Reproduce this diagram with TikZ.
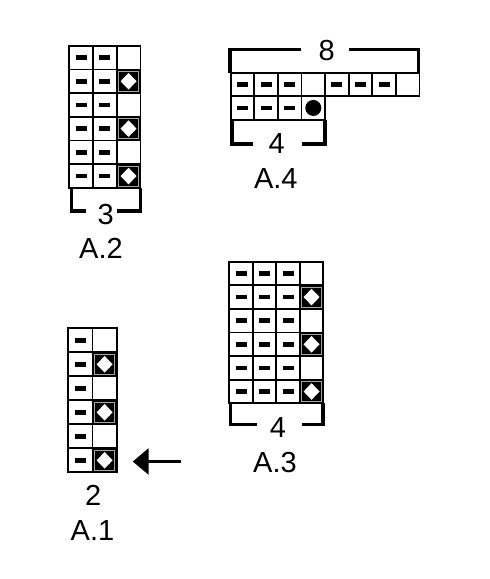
\documentclass[tikz,border=0pt]{standalone}
\usepackage{fontspec}
\setmainfont{Liberation Sans}
\usetikzlibrary{arrows.meta}
\tikzset{
  gridline/.style={line width=1.8pt, draw=black},
  brk/.style={line width=3.8pt, draw=black, line join=miter},
  lbl/.style={font=\fontsize{29}{29}\selectfont, inner sep=0pt},
  arrowline/.style={line width=3pt, -{Triangle[length=16pt,width=26pt]}},
}
\newcommand\syme[4]{}
\newcommand\symd[4]{\fill[black] (#1-5.5,#2-2.3) rectangle (#1+5.5,#2+2.3);}
\newcommand\symo[4]{\fill[black] (#1,#2) circle (8pt);}
\newcommand\symk[4]{%
  \fill[black] (#1-#3/2,#2-#4/2) rectangle (#1+#3/2,#2+#4/2);
  \draw[gray!70, line width=0.8pt] (#1-#3/2+2,#2-#4/2+2) rectangle (#1+#3/2-2,#2+#4/2-2);
  \fill[white] (#1,#2-8.3) -- (#1+8,#2) -- (#1,#2+8.3) -- (#1-8,#2) -- cycle;}
% #1 left, #2 top, #3 cell width, #4 cell height, #5 rows
\newcommand\knitchart[5]{%
  \foreach \row [count=\r from 0] in {#5} {
    \foreach \t [count=\c from 0] in \row {
      \pgfmathsetmacro\cx{#1+(\c+0.5)*#3}
      \pgfmathsetmacro\cy{#2+(\r+0.5)*#4}
      \csname sym\t\endcsname{\cx}{\cy}{#3}{#4}
    }
  }
  \foreach \row [count=\r from 0] in {#5} {
    \foreach \t [count=\c from 0] in \row {
      \draw[gridline] (#1+\c*#3,#2+\r*#4) rectangle ++(#3,#4);
    }
  }
}
\begin{document}
\begin{tikzpicture}[x=1pt,y=-1pt]
\fill[white] (0,0) rectangle (490,579);
\useasboundingbox (0,0) rectangle (490,579);

% A.2
\knitchart{69.3}{45.7}{23.7}{23.7}{{d,d,e},{d,d,k},{d,d,e},{d,d,k},{d,d,e},{d,d,k}}
\draw[brk] (86,211) -| (71.5,188);
\draw[brk] (117,211) -| (140.5,188);
\node[lbl] (n3) at (105.8,215) {3};
\node[lbl] (a2) at (101,248.5) {A.2};

% A.4
\knitchart{230.7}{72.7}{23.6}{23.5}{{d,d,d,e,d,d,d,e},{d,d,d,o}}
\draw[brk] (301,49.5) -| (230.3,72.7);
\draw[brk] (349.3,49.5) -| (418.5,72.7);
\node[lbl] (n8) at (326.7,51) {8};
\draw[brk] (253,143.8) -| (231.7,119.7);
\draw[brk] (301.7,143.8) -| (325.3,119.7);
\node[lbl] (n4a) at (276.7,144) {4};
\node[lbl] (a4) at (275.8,179) {A.4};

% A.3
\knitchart{229.3}{261.7}{23.5}{23.6}{{d,d,d,e},{d,d,d,k},{d,d,d,e},{d,d,d,k},{d,d,d,e},{d,d,d,k}}
\draw[brk] (256.7,424.5) -| (230.5,403.3);
\draw[brk] (301.7,424.5) -| (322.7,403.3);
\node[lbl] (n4b) at (278,428) {4};
\node[lbl] (a3) at (275,462.5) {A.3};

% A.1
\knitchart{68.3}{328.3}{24.2}{24}{{d,e},{d,k},{d,e},{d,k},{d,e},{d,k}}
\node[lbl] (n2) at (93.3,495.5) {2};
\node[lbl] (a1) at (92.5,531) {A.1};
\coordinate (arrS) at (181,461.5);
\coordinate (arrE) at (132.7,461.5);
\draw[arrowline] (arrS) -- (arrE);
\end{tikzpicture}
\end{document}
